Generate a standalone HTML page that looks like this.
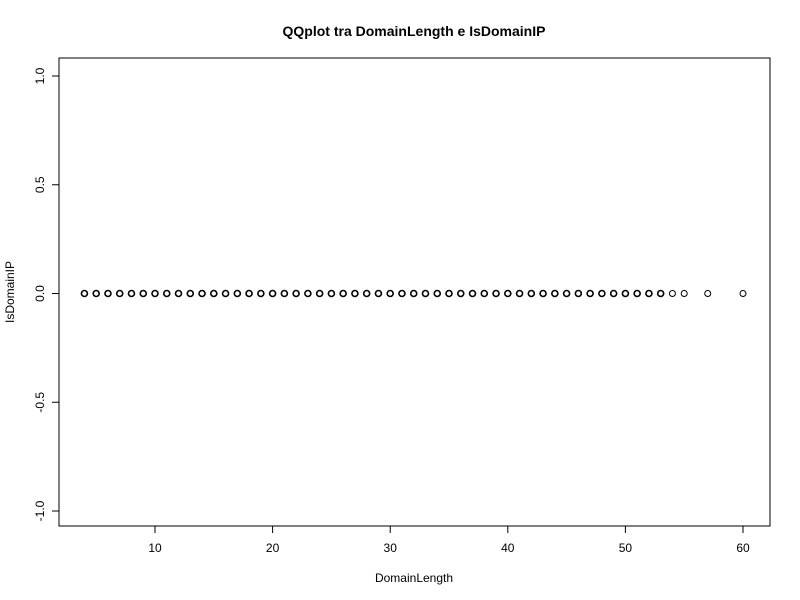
<!DOCTYPE html>
<html><head><meta charset="utf-8"><style>
html,body{margin:0;padding:0;background:#fff;}
svg{display:block;font-family:"Liberation Sans",Arial,sans-serif;}
</style></head><body>
<svg id="chart" width="800" height="600" viewBox="0 0 800 600">
<rect width="800" height="600" fill="#fff"/>
<text x="414" y="36" text-anchor="middle" font-size="14" font-weight="bold">QQplot tra DomainLength e IsDomainIP</text>
<rect x="59" y="58" width="711" height="468" fill="none" stroke="#000" stroke-width="1"/>
<text x="414" y="582" text-anchor="middle" font-size="12">DomainLength</text>
<text transform="translate(14,292) rotate(-90)" text-anchor="middle" font-size="12">IsDomainIP</text>
<g id="xaxis"></g>
<g id="yaxis"></g>
<g id="points"></g>
</svg>
<script>
const xValues = [4,5,6,7,8,9,10,11,12,13,14,15,16,17,18,19,20,21,22,23,24,25,26,27,28,29,30,31,32,33,34,35,36,37,38,39,40,41,42,43,44,45,46,47,48,49,50,51,52,53,54,55,57,60];
const yValues = [0,0,0,0,0,0,0,0,0,0,0,0,0,0,0,0,0,0,0,0,0,0,0,0,0,0,0,0,0,0,0,0,0,0,0,0,0,0,0,0,0,0,0,0,0,0,0,0,0,0,0,0,0,0];
const pointCounts = [9,9,9,9,9,9,9,9,9,9,9,9,9,9,9,9,9,9,9,9,9,9,9,9,9,9,9,9,9,9,9,9,9,9,9,9,9,9,9,9,9,9,9,9,9,9,9,9,9,9,1,1,1,1];
const xTicks = [10,20,30,40,50,60];
const yTicks = [-1.0,-0.5,0.0,0.5,1.0];
const yTickLabels = ["-1.0","-0.5","0.0","0.5","1.0"];

const NS = "http://www.w3.org/2000/svg";
const xs = v => 37.4 + (v) * 11.76;
const ys = v => 293.5 - v * 217.5;
function mk(tag, attrs, parent){const e=document.createElementNS(NS,tag);for(const k in attrs)e.setAttribute(k,attrs[k]);parent.appendChild(e);return e;}

const xg = document.getElementById('xaxis');
const xl = mk('line',{x1:xs(xTicks[0]),x2:xs(xTicks[xTicks.length-1]),y1:526,y2:526,stroke:'#000'},xg);


xTicks.forEach(t=>{
  const tk = mk('line',{x1:xs(t),x2:xs(t),y1:526,y2:533,stroke:'#000'},xg);
  
  
  const lb = mk('text',{x:xs(t),y:552,'text-anchor':'middle','font-size':12},xg);
  lb.textContent = t;
  
  
});

const yg = document.getElementById('yaxis');
const yl = mk('line',{x1:59,x2:59,y1:ys(yTicks[0]),y2:ys(yTicks[yTicks.length-1]),stroke:'#000'},yg);


yTicks.forEach((t,i)=>{
  const tk = mk('line',{x1:52,x2:59,y1:ys(t),y2:ys(t),stroke:'#000'},yg);
  
  
  const lb = mk('text',{transform:`translate(44,${ys(t)}) rotate(-90)`,'text-anchor':'middle','font-size':12},yg);
  lb.textContent = yTickLabels[i];
  
  
});

const pg = document.getElementById('points');
xValues.forEach((x,i)=>{
  const c = mk('circle',{cx:xs(x),cy:ys(yValues[i]),r:3,fill:'none',stroke:'#000','stroke-width':pointCounts[i]>1?1.6:1},pg);
  
  
});
</script>
</body></html>
